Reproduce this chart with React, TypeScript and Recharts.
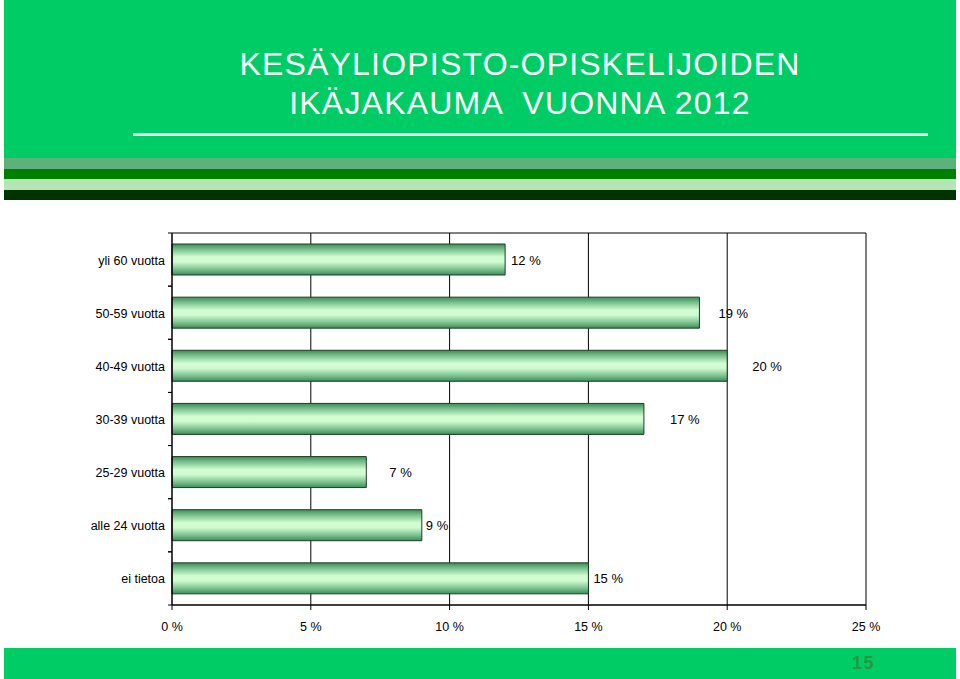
import React from "react";
import { BarChart, Bar, XAxis, YAxis, CartesianGrid, LabelList } from "recharts";

const CATEGORIES = ["yli 60 vuotta", "50-59 vuotta", "40-49 vuotta", "30-39 vuotta", "25-29 vuotta", "alle 24 vuotta", "ei tietoa"];
const VALUES = [12, 19, 20, 17, 7, 9, 15];
const X_TICKS = [0, 5, 10, 15, 20, 25];
const TITLE_LINES = ["KESÄYLIOPISTO-OPISKELIJOIDEN", "IKÄJAKAUMA  VUONNA 2012"];
const PAGE_NUMBER = "15";

// label nudges (styling only), px right of bar end
const LABEL_DX = [6, 19, 25, 26, 23, 4, 5];

const data = CATEGORIES.map((name, i) => ({ name, value: VALUES[i] }));

const FONT = "'Liberation Sans', Arial, sans-serif";
const W = 960;
const H = 679;
const PLOT_LEFT = 172;
const PLOT_RIGHT = 866;
const PLOT_TOP = 233;
const PLOT_BOTTOM = 605;
const BAND = (PLOT_BOTTOM - PLOT_TOP) / CATEGORIES.length;

const YTick = (props: any) => {
  const { y, payload } = props;
  return (
    <g>
      <line x1={PLOT_LEFT - 4} x2={PLOT_LEFT} y1={y - BAND / 2} y2={y - BAND / 2} stroke="#000" strokeWidth={1} />
      <line x1={PLOT_LEFT - 4} x2={PLOT_LEFT} y1={y + BAND / 2} y2={y + BAND / 2} stroke="#000" strokeWidth={1} />
      <text x={165} y={y} dy={5} textAnchor="end" fontSize={12.5} fontFamily={FONT} fill="#000">
        {payload.value}
      </text>
    </g>
  );
};

const ValueLabel = (props: any) => {
  const { x, y, width, height, value, index } = props;
  return (
    <text
      x={x + width + LABEL_DX[index]}
      y={y + height / 2}
      dy={5}
      fontSize={13}
      fontFamily={FONT}
      fill="#000"
    >
      {`${value} %`}
    </text>
  );
};

export default function App() {
  return (
    <div style={{ position: "absolute", left: 0, top: 0, width: W, height: H, background: "#fff", overflow: "hidden", fontFamily: FONT }}>
      {/* header */}
      <div style={{ position: "absolute", left: 4, top: 0, width: 952, height: 158, background: "#00cc66" }} />
      <div style={{ position: "absolute", left: 133, top: 133, width: 795, height: 3, background: "#e6fff0" }} />
      <div style={{ position: "absolute", left: 4, top: 158, width: 952, height: 11, background: "#5cb27a" }} />
      <div style={{ position: "absolute", left: 4, top: 169, width: 952, height: 10, background: "#008000" }} />
      <div style={{ position: "absolute", left: 4, top: 179, width: 952, height: 11, background: "#b5e5b5" }} />
      <div style={{ position: "absolute", left: 4, top: 190, width: 952, height: 10, background: "#003300" }} />
      <div style={{ position: "absolute", left: 0, top: 45, width: 1040, textAlign: "center", color: "#fff", fontSize: 32, lineHeight: "39px", letterSpacing: 1.2, fontFamily: FONT }}>
        {TITLE_LINES.map((t, i) => (
          <div key={i} style={{ whiteSpace: "pre" }}>{t}</div>
        ))}
      </div>
      {/* footer */}
      <div style={{ position: "absolute", left: 4, top: 648, width: 952, height: 31, background: "#00cc66" }} />
      <div style={{ position: "absolute", left: 852, top: 653, color: "#239a42", fontSize: 18, fontWeight: "bold", fontFamily: FONT, letterSpacing: 1.5 }}>
        {PAGE_NUMBER}
      </div>

      <div style={{ position: "absolute", left: 0, top: 0 }}>
        <BarChart
          width={W}
          height={H}
          data={data}
          layout="vertical"
          margin={{ top: PLOT_TOP, right: W - PLOT_RIGHT, bottom: H - PLOT_BOTTOM - 30, left: PLOT_LEFT - 160 }}
          barSize={31}
        >
          <defs>
            <linearGradient id="barGrad" x1="0" y1="0" x2="0" y2="1">
              <stop offset="0%" stopColor="#3d8c58" />
              <stop offset="18%" stopColor="#7cc290" />
              <stop offset="42%" stopColor="#d2fdd2" />
              <stop offset="58%" stopColor="#cffbcf" />
              <stop offset="82%" stopColor="#7cc290" />
              <stop offset="100%" stopColor="#3d8c58" />
            </linearGradient>
          </defs>
          <CartesianGrid
            stroke="#000"
            strokeWidth={1}
            horizontalCoordinatesGenerator={() => [PLOT_TOP]}
            verticalCoordinatesGenerator={({ offset }: any) => {
              const w = offset.width;
              return X_TICKS.slice(1).map((t) => offset.left + (t / 25) * w);
            }}
          />
          <XAxis
            type="number"
            domain={[0, 25]}
            ticks={X_TICKS}
            tickFormatter={(v: number) => `${v} %`}
            axisLine={{ stroke: "#000", strokeWidth: 1.5 }}
            tickLine={{ stroke: "#000" }}
            tickSize={5}
            tickMargin={12}
            height={30}
            tick={{ fontSize: 12.5, fill: "#000", fontFamily: FONT }}
            interval={0}
          />
          <YAxis
            type="category"
            dataKey="name"
            width={160}
            axisLine={{ stroke: "#000", strokeWidth: 1.5 }}
            tickLine={false}
            tick={<YTick />}
            interval={0}
          />
          <Bar dataKey="value" fill="url(#barGrad)" stroke="#1d3f26" strokeWidth={1} isAnimationActive={false}>
            <LabelList dataKey="value" content={<ValueLabel />} />
          </Bar>
        </BarChart>
      </div>
    </div>
  );
}
